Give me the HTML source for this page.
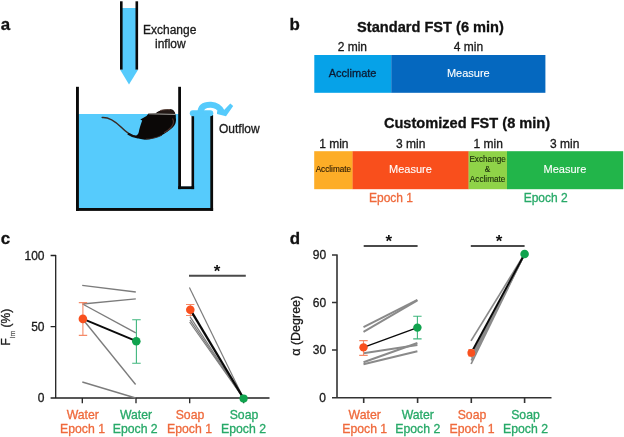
<!DOCTYPE html>
<html><head><meta charset="utf-8">
<style>
html,body{margin:0;padding:0;background:#fff;}
body{width:624px;height:437px;overflow:hidden;}
svg{display:block;font-family:"Liberation Sans",sans-serif;will-change:transform;}
.b{font-weight:bold;}
</style></head><body>
<svg width="624" height="437" viewBox="0 0 624 437">
<rect width="624" height="437" fill="#fff"/>

<!-- panel labels -->
<g class="b" font-size="16.9" fill="#111" stroke="#111" stroke-width="0.3">
<text x="0.7" y="29.7">a</text>
<text x="289.6" y="29.9">b</text>
<text x="0.7" y="243.7">c</text>
<text x="289.8" y="243.9">d</text>
</g>

<!-- PANEL A -->
<g id="pa">
<!-- inflow tube -->
<rect x="122" y="8" width="14" height="62" fill="#56cbfc"/>
<polygon points="120,69.5 138.2,69.5 129,84.5" fill="#56cbfc"/>
<rect x="120" y="1.3" width="2.6" height="68.3" fill="#0a0a0a"/>
<rect x="135.5" y="1.3" width="2.6" height="68.3" fill="#0a0a0a"/>
<text x="143" y="33.6" font-size="12" fill="#1a1a1a" stroke="#1a1a1a" stroke-width="0.3">Exchange</text>
<text x="155" y="47.8" font-size="12" fill="#1a1a1a" stroke="#1a1a1a" stroke-width="0.3">inflow</text>
<!-- water -->
<rect x="77" y="114" width="103" height="95" fill="#56cbfc"/>
<rect x="179" y="186" width="33" height="23" fill="#56cbfc"/>
<rect x="192" y="113" width="20" height="75" fill="#56cbfc"/>
<!-- tank walls -->
<rect x="76" y="86.8" width="2.9" height="124.1" fill="#0a0a0a"/>
<rect x="76" y="208" width="137.1" height="2.9" fill="#0a0a0a"/>
<rect x="210.3" y="115" width="2.8" height="95.9" fill="#0a0a0a"/>
<rect x="178.2" y="86.8" width="2.8" height="102.3" fill="#0a0a0a"/>
<rect x="191.3" y="116" width="2.8" height="73.1" fill="#0a0a0a"/>
<rect x="178.2" y="186.2" width="15.9" height="2.9" fill="#0a0a0a"/>
<rect x="181" y="114" width="10.3" height="72.2" fill="#fff"/>
<rect x="189.8" y="110.2" width="23.5" height="6" rx="3" fill="#56cbfc"/>
<!-- curved arrow -->
<path d="M200.3,113 C200.6,106 206,104.6 211,104.8 C216,105 219.8,107.6 222.3,112.3" fill="none" stroke="#56cbfc" stroke-width="6"/>
<polygon points="217,111.2 223.6,110.6 230.3,103.6 233.2,106 226,116.3 217,114" fill="#56cbfc"/>
<text x="219" y="132.5" font-size="12" fill="#1a1a1a" stroke="#1a1a1a" stroke-width="0.3">Outflow</text>
<!-- mouse -->
<path d="M102.2,117.4 C109,117 115,121 121,127 C126,132 130,135.5 135.5,136.6" fill="none" stroke="#3a2a24" stroke-width="1.5" stroke-linecap="round"/>
<path d="M128,133.6 C131,135.8 134,136.8 138,137.4" fill="none" stroke="#15100e" stroke-width="2.4"/>
<path d="M134.1,136.6 C137,135.6 138.4,134 138.8,132 C139.4,129 139.8,127.5 140.3,126 C141,123.8 141.6,122 142.2,120.6 L140.3,119.6 C142.5,118.2 144.5,117 146.5,116 C147.5,115 148,114.2 148.6,113.6 L155.7,113.2 C156.8,112.3 157.8,111.8 158.8,111.3 C161,110.2 163,109.7 165,109.5 C168,109.2 170.5,109.3 172.7,109.8 C174.2,111 175,112.4 175.3,113.9 C175.9,115 176,116.2 175.8,117.5 C176.2,119.8 176,121.8 175.3,123.7 C174.3,125.8 173,127.4 171.2,128.8 C168.8,131 166,132.9 163,134.5 C160,136.2 157,137.3 153.7,138.1 C150.3,139.2 146.8,139.8 143.4,139.6 C140,139.2 136.6,138.2 134.1,136.6 Z" fill="#0b0807"/>
<path d="M156.4,113.4 C158.5,111.5 162,110 165.5,109.7 C168.5,109.5 171,109.6 172.6,110 C173.8,111 174.6,112.2 174.9,113.6 Z" fill="#231815"/>
<path d="M160,110.6 C163,109.6 167,109.4 170,109.7" stroke="#6a5148" stroke-width="0.9" fill="none"/>
<path d="M148.6,113.8 L175.3,114.4" stroke="#a9a6a2" stroke-width="1"/>
<path d="M172.5,118.5 C174,121 173.5,124.5 171,127.5 C169,129.8 166.5,131.5 164,132.8" stroke="#4a302a" stroke-width="1.2" fill="none"/>
<path d="M146,139 C151,139.2 157,137.6 162,135.2" stroke="#3a2620" stroke-width="0.9" fill="none"/>
</g>

<!-- PANEL B -->
<g id="pb">
<text class="b" x="430.5" y="31.8" font-size="14.6" text-anchor="middle" fill="#111" stroke="#111" stroke-width="0.3">Standard FST (6 min)</text>
<text x="352.3" y="50.5" font-size="12" text-anchor="middle" fill="#1a1a1a" stroke="#1a1a1a" stroke-width="0.3">2 min</text>
<text x="468.5" y="50.5" font-size="12" text-anchor="middle" fill="#1a1a1a" stroke="#1a1a1a" stroke-width="0.3">4 min</text>
<rect x="314.3" y="55" width="77.2" height="37.8" fill="#06a2e8"/>
<rect x="391.3" y="55" width="154.1" height="37.8" fill="#0568bf"/>
<text x="352.6" y="76.8" font-size="11" text-anchor="middle" fill="#0b1a33" stroke="#0b1a33" stroke-width="0.3">Acclimate</text>
<text x="468.3" y="76.8" font-size="11" text-anchor="middle" fill="#fff" stroke="#fff" stroke-width="0.1">Measure</text>

<text class="b" x="467" y="127.6" font-size="14.6" text-anchor="middle" fill="#111" stroke="#111" stroke-width="0.3">Customized FST (8 min)</text>
<text x="333.8" y="147.8" font-size="12" text-anchor="middle" fill="#1a1a1a" stroke="#1a1a1a" stroke-width="0.3">1 min</text>
<text x="410.7" y="147.8" font-size="12" text-anchor="middle" fill="#1a1a1a" stroke="#1a1a1a" stroke-width="0.3">3 min</text>
<text x="488.2" y="147.8" font-size="12" text-anchor="middle" fill="#1a1a1a" stroke="#1a1a1a" stroke-width="0.3">1 min</text>
<text x="564.7" y="147.8" font-size="12" text-anchor="middle" fill="#1a1a1a" stroke="#1a1a1a" stroke-width="0.3">3 min</text>
<rect x="314.2" y="151.2" width="38.6" height="38" fill="#fdad27"/>
<rect x="352.6" y="151.2" width="116.2" height="38" fill="#f94f1c"/>
<rect x="468.6" y="151.2" width="38.6" height="38" fill="#8fd348"/>
<rect x="507" y="151.2" width="116.2" height="38" fill="#22b54a"/>
<text x="333.4" y="172.3" font-size="8.2" text-anchor="middle" fill="#2a1a05" stroke="#2a1a05" stroke-width="0.12">Acclimate</text>
<text x="410.5" y="173" font-size="11" text-anchor="middle" fill="#fff" stroke="#fff" stroke-width="0.1">Measure</text>
<text x="487.6" y="162" font-size="8.2" text-anchor="middle" fill="#1a2a0a" stroke="#1a2a0a" stroke-width="0.12">Exchange</text>
<text x="487.6" y="172.3" font-size="8.2" text-anchor="middle" fill="#1a2a0a" stroke="#1a2a0a" stroke-width="0.12">&amp;</text>
<text x="487.6" y="182" font-size="8.2" text-anchor="middle" fill="#1a2a0a" stroke="#1a2a0a" stroke-width="0.12">Acclimate</text>
<text x="565" y="173" font-size="11" text-anchor="middle" fill="#fff" stroke="#fff" stroke-width="0.1">Measure</text>
<text x="391" y="202.4" font-size="12" text-anchor="middle" fill="#ef6a3c" stroke="#ef6a3c" stroke-width="0.3">Epoch 1</text>
<text x="545.7" y="202.4" font-size="12" text-anchor="middle" fill="#27a968" stroke="#27a968" stroke-width="0.3">Epoch 2</text>
</g>

<!-- PANEL C -->
<g id="pc">
<!-- axes -->
<path d="M55.7,254.9 V398.6 M50.6,398 H269.5 M50.6,255.5 H56 M50.6,326.7 H56 M82.3,398 V403.2 M136,398 V403.2 M189.7,398 V403.2 M243.6,398 V403.2" stroke="#222" stroke-width="1.3" fill="none"/>
<g font-size="12" fill="#1a1a1a" text-anchor="end" stroke="#1a1a1a" stroke-width="0.3">
<text x="44.5" y="259.5">100</text>
<text x="44.5" y="330.8">50</text>
<text x="44.4" y="402.3">0</text>
</g>
<g transform="translate(10,345.5) rotate(-90)" fill="#1a1a1a" stroke="#1a1a1a" stroke-width="0.3"><text x="0" y="0" font-size="12">F<tspan font-size="7" dy="5" fill="#555" stroke="#555" stroke-width="0.2">im</tspan><tspan font-size="12" dy="-5"> (%)</tspan></text></g>
<!-- grey lines water -->
<g stroke="#7c7c7c" stroke-width="1.35" fill="none">
<path d="M82.2,285.3 L135.8,292"/>
<path d="M82.5,304 L135.8,298.8"/>
<path d="M82.5,304 L135.8,332.8"/>
<path d="M83,319.5 L135.6,384.5"/>
<path d="M82.3,382 L135.6,398"/>
</g>
<!-- error bars -->
<path d="M82.9,302.6 V335.4 M78.8,302.6 H87.2 M78.8,335.4 H87.2" stroke="#f58a68" stroke-width="1.1" fill="none"/>
<path d="M136.4,319.7 V363.2 M132.2,319.7 H140.7 M132.2,363.2 H140.7" stroke="#3fb67d" stroke-width="1.1" fill="none"/>
<path d="M82.9,318.9 L136.3,341.2" stroke="#0a0a0a" stroke-width="1.9"/>
<circle cx="82.9" cy="318.9" r="4.3" fill="#f9501e"/>
<circle cx="136.3" cy="341.2" r="4.3" fill="#10a34e"/>
<!-- soap -->
<g stroke="#7c7c7c" stroke-width="1.2" fill="none">
<path d="M189.4,287.6 L243.6,398.5"/>
<path d="M190,316.7 L243.6,398.5"/>
<path d="M190,319.9 L243.6,398.5"/>
<path d="M189.6,322 L243.6,398.5"/>
</g>
<path d="M190.3,304.5 V315.5 M186,304.5 H194.4 M186,315.5 H194.4" stroke="#f58a68" stroke-width="1.1" fill="none"/>
<path d="M190.3,309.7 L243.6,398.5" stroke="#0a0a0a" stroke-width="2.3"/>
<circle cx="190.3" cy="309.7" r="4.3" fill="#f9501e"/>
<circle cx="243.6" cy="398.6" r="4.1" fill="#10a34e"/>
<path d="M189,275.8 H245.8" stroke="#4a4a4a" stroke-width="2"/>
<text x="217" y="277.4" font-size="17" font-weight="bold" text-anchor="middle" fill="#111">*</text>
<!-- x labels -->
<g font-size="12.25" text-anchor="middle">
<text x="82.8" y="418.5" fill="#ef6a3c" stroke="#ef6a3c" stroke-width="0.3">Water</text>
<text x="82.5" y="432.9" fill="#ef6a3c" stroke="#ef6a3c" stroke-width="0.3">Epoch 1</text>
<text x="136" y="418.5" fill="#27a968" stroke="#27a968" stroke-width="0.3">Water</text>
<text x="135.2" y="432.9" fill="#27a968" stroke="#27a968" stroke-width="0.3">Epoch 2</text>
<text x="190" y="418.5" fill="#ef6a3c" stroke="#ef6a3c" stroke-width="0.3">Soap</text>
<text x="189.5" y="432.9" fill="#ef6a3c" stroke="#ef6a3c" stroke-width="0.3">Epoch 1</text>
<text x="244" y="418.5" fill="#27a968" stroke="#27a968" stroke-width="0.3">Soap</text>
<text x="243.5" y="432.9" fill="#27a968" stroke="#27a968" stroke-width="0.3">Epoch 2</text>
</g>
</g>

<!-- PANEL D -->
<g id="pd">
<path d="M337,254.4 V398.4 M332,397.8 H551.5 M332,255 H337.4 M332,302.5 H337.4 M332,350 H337.4 M363.7,397.8 V403 M417.6,397.8 V403 M471.3,397.8 V403 M524.6,397.8 V403" stroke="#333" stroke-width="1.6" fill="none"/>
<g font-size="12" fill="#1a1a1a" text-anchor="end" stroke="#1a1a1a" stroke-width="0.3">
<text x="326.2" y="259.2">90</text>
<text x="326.2" y="306.7">60</text>
<text x="326.2" y="354.2">30</text>
<text x="325.9" y="402">0</text>
</g>
<g transform="translate(299.6,325.8) rotate(-90)" fill="#1a1a1a" stroke="#1a1a1a" stroke-width="0.3"><text x="0" y="0" font-size="12.5" text-anchor="middle">α (Degree)</text></g>
<g stroke="#8a8a8a" stroke-width="2" fill="none">
<path d="M363.5,327.2 L417.4,299.8"/>
<path d="M363.5,331.9 L417.4,300.4"/>
<path d="M363.5,353.3 L417.4,345.1"/>
<path d="M363.5,362.2 L417.4,343"/>
<path d="M363.5,364.2 L417.4,351.3"/>
</g>
<path d="M363.5,340.6 V355.4 M359.2,340.6 H367.7 M359.2,355.4 H367.7" stroke="#f58a68" stroke-width="1.1" fill="none"/>
<path d="M417.4,316.3 V338.9 M413.2,316.3 H421.6 M413.2,338.9 H421.6" stroke="#3fb67d" stroke-width="1.1" fill="none"/>
<path d="M363.5,347.4 L417.4,327.6" stroke="#0a0a0a" stroke-width="1.3"/>
<circle cx="363.5" cy="347.4" r="4.2" fill="#f9501e"/>
<circle cx="417.4" cy="327.6" r="4.2" fill="#10a34e"/>
<path d="M363.7,246 H417.6" stroke="#4a4a4a" stroke-width="2"/>
<text x="388.8" y="247.4" font-size="17" font-weight="bold" text-anchor="middle" fill="#111">*</text>
<!-- soap -->
<g stroke="#8a8a8a" stroke-width="1.7" fill="none">
<path d="M471,340.9 L524.6,254"/>
<path d="M471.3,357.5 L524.6,254"/>
<path d="M471.3,355.5 L524.6,254"/>
<path d="M471.3,360.5 L524.6,254"/>
<path d="M471.1,364 L524.6,254"/>
</g>
<path d="M471.3,352.8 L524.6,254" stroke="#0a0a0a" stroke-width="1.9"/>
<path d="M471.3,349.5 V356 M468.3,349.5 H474.3 M468.3,356 H474.3" stroke="#f58a68" stroke-width="1" fill="none"/>
<circle cx="471.3" cy="352.8" r="3.9" fill="#f9501e"/>
<circle cx="524.6" cy="254" r="4.3" fill="#10a34e"/>
<path d="M470.8,246 H524.6" stroke="#4a4a4a" stroke-width="2"/>
<text x="499" y="247.4" font-size="17" font-weight="bold" text-anchor="middle" fill="#111">*</text>
<g font-size="12.25" text-anchor="middle">
<text x="364.7" y="418.5" fill="#ef6a3c" stroke="#ef6a3c" stroke-width="0.3">Water</text>
<text x="364.7" y="432.9" fill="#ef6a3c" stroke="#ef6a3c" stroke-width="0.3">Epoch 1</text>
<text x="417.8" y="418.5" fill="#27a968" stroke="#27a968" stroke-width="0.3">Water</text>
<text x="417.8" y="432.9" fill="#27a968" stroke="#27a968" stroke-width="0.3">Epoch 2</text>
<text x="472" y="418.5" fill="#ef6a3c" stroke="#ef6a3c" stroke-width="0.3">Soap</text>
<text x="472" y="432.9" fill="#ef6a3c" stroke="#ef6a3c" stroke-width="0.3">Epoch 1</text>
<text x="525.5" y="418.5" fill="#27a968" stroke="#27a968" stroke-width="0.3">Soap</text>
<text x="525.5" y="432.9" fill="#27a968" stroke="#27a968" stroke-width="0.3">Epoch 2</text>
</g>
</g>
</svg>
</body></html>
